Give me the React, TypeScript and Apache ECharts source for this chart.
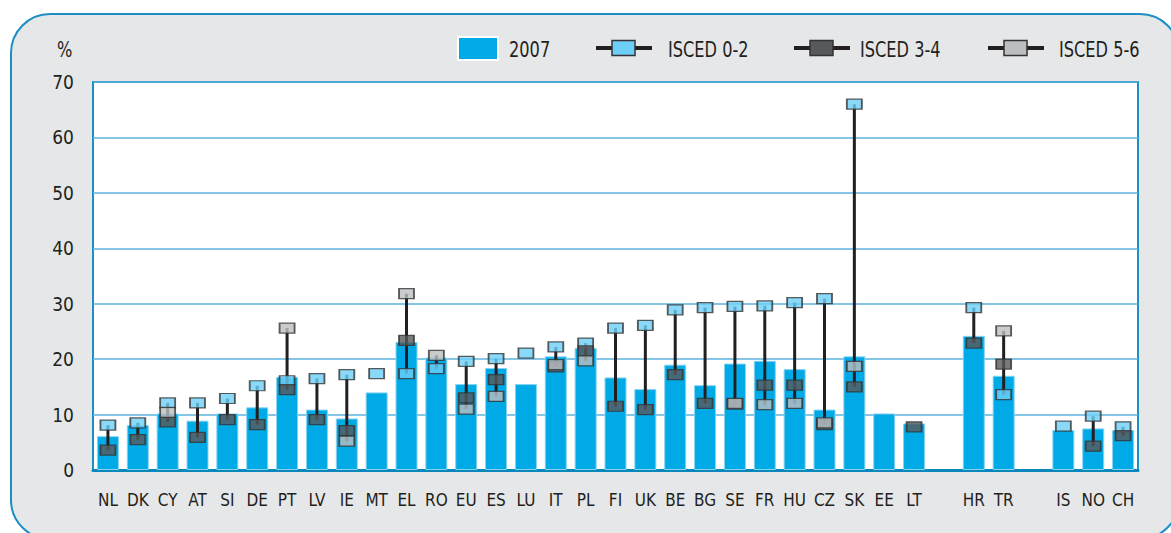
import React, { useEffect, useRef } from "react";
import * as echarts from "echarts";

const categories = ["NL","DK","CY","AT","SI","DE","PT","LV","IE","MT","EL","RO","EU","ES","LU","IT","PL","FI","UK","BE","BG","SE","FR","HU","CZ","SK","EE","LT","","HR","TR","","IS","NO","CH"];

const values2007 = [6.1,8.1,10.2,8.9,10.2,11.3,16.8,10.9,9.3,14.0,23.1,20.3,15.5,18.4,15.5,20.5,22.0,16.7,14.6,19.0,15.3,19.2,19.7,18.2,10.9,20.5,10.2,8.4,null,24.2,17.0,null,7.2,7.5,7.2];

const isced02 = [8.1,8.5,12.1,12.1,12.9,15.2,16.1,16.5,17.2,17.4,17.4,18.3,19.6,20.1,21.1,22.2,22.9,25.6,26.1,28.9,29.3,29.5,29.6,30.2,30.9,66.0,null,null,null,29.3,13.6,null,7.9,9.7,7.8];

const isced34 = [3.6,5.5,8.7,5.9,9.1,8.2,14.5,9.1,7.1,null,23.4,null,13.0,16.3,null,18.6,21.5,11.5,10.9,17.2,12.0,11.9,15.3,15.3,8.2,15.0,null,7.8,null,22.9,19.1,null,null,4.3,6.2];

const isced56 = [null,null,10.4,null,null,null,25.6,null,5.2,null,31.8,20.7,11.0,13.3,null,19.0,19.7,null,null,null,null,12.0,11.8,12.0,8.5,18.7,null,null,null,null,25.1,null,null,null,null];

const yTicks = { min: 0, max: 70, interval: 10 };

const FONT = "'DejaVu Sans Condensed', 'Liberation Sans Narrow', 'Liberation Sans', sans-serif";
const TEXT = "#231F20";
const BAR = "#00AAE6";
const C02 = "#6DCFF6";
const C34 = "#58595B";
const C56 = "#BCBEC0";

export default function App() {
  const ref = useRef<HTMLDivElement>(null);
  useEffect(() => {
    if (!ref.current) return;
    const chart = echarts.init(ref.current, null, { renderer: "svg" });

    const ranges: number[][] = [];
    categories.forEach((_, i) => {
      const vals = [isced02[i], isced34[i], isced56[i]].filter((v) => v !== null) as number[];
      if (vals.length >= 2) ranges.push([i, Math.min(...vals), Math.max(...vals)]);
    });

    const markerStyle = (color: string) => ({
      color,
      borderColor: "#333333",
      borderWidth: 1.5,
    });

    const legendText = (x: number, label: string) => ({
      type: "text",
      x,
      y: 49,
      scaleY: 1.22,
      style: { text: label, font: `18px ${FONT}`, fill: TEXT, verticalAlign: "middle" },
    });

    const legendItem = (x: number, color: string, label: string, textX: number) => [
      { type: "line", shape: { x1: x, y1: 48, x2: x + 56, y2: 48 }, style: { stroke: TEXT, lineWidth: 4 } },
      { type: "rect", shape: { x: x + 16, y: 40.5, width: 23, height: 15 }, style: { fill: color, stroke: "#333333", lineWidth: 1.5 } },
      legendText(textX, label),
    ];

    chart.setOption({
      animation: false,
      backgroundColor: "transparent",
      textStyle: { fontFamily: FONT },
      grid: {
        left: 93,
        right: 33,
        top: 82,
        bottom: 63,
        show: true,
        backgroundColor: "#ffffff",
        borderColor: "#1E8FC6",
        borderWidth: 2,
      },
      xAxis: {
        type: "category",
        data: categories,
        axisTick: { show: false },
        axisLine: { show: true, lineStyle: { color: "#0A87BD", width: 3 } },
        axisLabel: { interval: 0, color: TEXT, fontSize: 17, fontFamily: FONT, margin: 21 },
      },
      yAxis: {
        type: "value",
        min: yTicks.min,
        max: yTicks.max,
        interval: yTicks.interval,
        axisLine: { show: false },
        axisTick: { show: false },
        axisLabel: { color: TEXT, fontSize: 19, fontFamily: FONT, margin: 19 },
        splitLine: { lineStyle: { color: "#5DB2DC", width: 1.5 } },
      },
      graphic: [
        legendText(57, "%"),
        { type: "rect", shape: { x: 458, y: 37, width: 40, height: 23 }, style: { fill: BAR, stroke: "#ffffff", lineWidth: 2 } },
        legendText(509, "2007"),
        ...legendItem(596, C02, "ISCED 0-2", 668),
        ...legendItem(794, C34, "ISCED 3-4", 860),
        ...legendItem(988, C56, "ISCED 5-6", 1059),
      ],
      series: [
        {
          name: "2007",
          type: "bar",
          data: values2007,
          barWidth: 22,
          itemStyle: { color: BAR, borderColor: "#86D3F2", borderWidth: 1 },
          z: 2,
        },
        {
          name: "range",
          type: "custom",
          data: ranges,
          encode: { x: 0, y: [1, 2] },
          renderItem: (params: any, api: any) => {
            const x = api.value(0);
            const lo = api.coord([x, api.value(1)]);
            const hi = api.coord([x, api.value(2)]);
            return {
              type: "line",
              shape: { x1: lo[0], y1: lo[1], x2: hi[0], y2: hi[1] },
              style: { stroke: TEXT, lineWidth: 3 },
            };
          },
          z: 3,
        },
        { name: "ISCED 0-2", type: "scatter", data: isced02, symbol: "rect", symbolSize: [15, 10], itemStyle: markerStyle(C02), z: 4 },
        { name: "ISCED 3-4", type: "scatter", data: isced34, symbol: "rect", symbolSize: [15, 10], itemStyle: markerStyle(C34), z: 5 },
        { name: "ISCED 5-6", type: "scatter", data: isced56, symbol: "rect", symbolSize: [15, 10], itemStyle: markerStyle(C56), z: 6 },
      ],
    });
    return () => chart.dispose();
  }, []);

  return (
    <div style={{ position: "fixed", left: 0, top: 0, width: 1171, height: 533, background: "#ffffff", overflow: "hidden" }}>
      <div
        style={{
          position: "absolute",
          left: 10,
          top: 13,
          width: 1166,
          height: 523,
          border: "2px solid #1B8FC4",
          borderRadius: 40,
          background: "#E6E7E8",
        }}
      />
      <div ref={ref} style={{ position: "absolute", left: 0, top: 0, width: 1171, height: 533 }} />
    </div>
  );
}
